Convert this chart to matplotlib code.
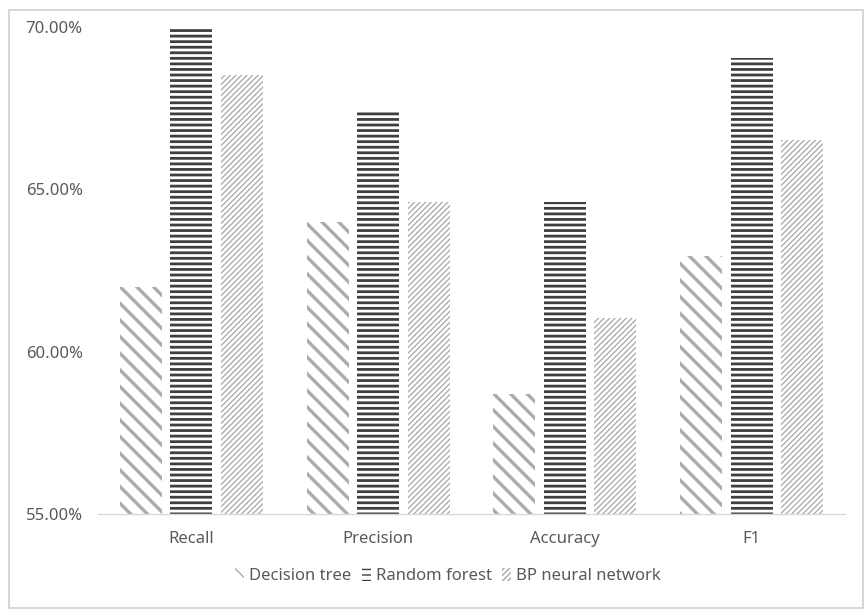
import matplotlib
matplotlib.use("Agg")
import matplotlib.pyplot as plt
from matplotlib.patches import Rectangle
from matplotlib.ticker import FuncFormatter
import numpy as np

categories = ["Recall", "Precision", "Accuracy", "F1"]
decision_tree = [62.0, 64.0, 58.7, 62.95]
random_forest = [70.0, 67.42, 64.6, 69.03]
bp_network = [68.52, 64.62, 61.05, 66.53]
series_names = ["Decision tree", "Random forest", "BP neural network"]

plt.rcParams["font.family"] = ["Noto Sans", "DejaVu Sans"]
plt.rcParams["font.size"] = 12

fig = plt.figure(figsize=(8.65, 6.16), dpi=100)
W, H = 865, 616
ax = fig.add_axes([98 / W, 1 - 514 / H, (845 - 98) / W, (514 - 27) / H])

x = np.arange(len(categories))
width = 0.225
step = 0.271

# hatch, line colour, hatch line width (pt)
styles = [
    ("\\\\", "#ababab", 2.4),
    ("---", "#3f3f3f", 2.0),
    ("//////", "#a6a6a6", 0.9),
]
handles = []
for i, (vals, (hatch, col, lw)) in enumerate(zip([decision_tree, random_forest, bp_network], styles)):
    with plt.rc_context({"hatch.linewidth": lw, "hatch.color": col}):
        bars = ax.bar(x + (i - 1) * step, np.array(vals) - 55, width, bottom=55,
                      color="white", edgecolor=col, hatch=hatch,
                      linewidth=0, label=series_names[i])
    handles.append(bars)

ax.set_xlim(-0.5, 3.5)
ax.set_ylim(55, 70)
ax.set_yticks([55, 60, 65, 70])
ax.yaxis.set_major_formatter(FuncFormatter(lambda v, p: f"{v:.2f}%"))
ax.set_xticks(x)
ax.set_xticklabels(categories)
ax.tick_params(axis="both", length=0, colors="#595959", labelsize=12)
ax.tick_params(axis="y", pad=11)
ax.tick_params(axis="x", pad=12)

for s in ["top", "right", "left"]:
    ax.spines[s].set_visible(False)
ax.spines["bottom"].set_color("#d9d9d9")
ax.spines["bottom"].set_linewidth(1)

leg = fig.legend(handles=handles, labels=series_names, loc="center",
                 bbox_to_anchor=(448 / W, 1 - 576 / H), ncol=3, frameon=False,
                 handlelength=0.55, handleheight=0.8, handletextpad=0.3,
                 columnspacing=0.6, fontsize=12, labelcolor="#595959")

fig.patches.append(Rectangle((9 / W, 1 - 608 / H), (863 - 9) / W, (608 - 10) / H,
                             transform=fig.transFigure, fill=False,
                             edgecolor="#d0d0d0", linewidth=1.2))

fig.savefig("out.png", dpi=100)
